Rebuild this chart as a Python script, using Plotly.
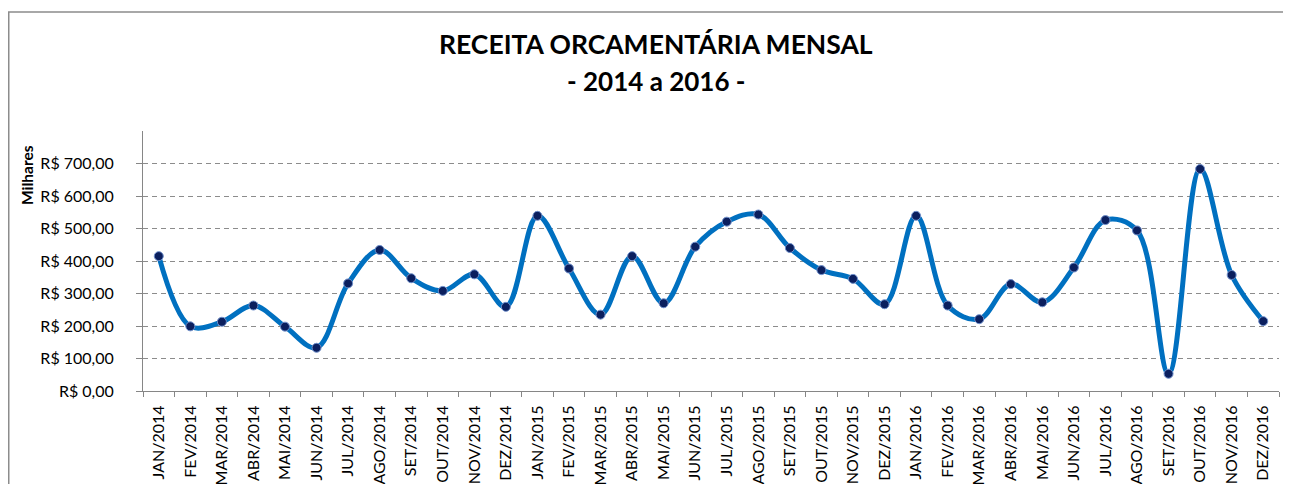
import plotly.graph_objects as go

months = ["JAN", "FEV", "MAR", "ABR", "MAI", "JUN", "JUL", "AGO", "SET", "OUT", "NOV", "DEZ"]
years = ["2014", "2015", "2016"]
categories = [f"{m}/{y}" for y in years for m in months]

values_2014 = [415, 199, 213, 263, 198, 133, 331, 434, 347, 308, 359, 259]
values_2015 = [539, 377, 235, 415, 270, 444, 521, 543, 440, 372, 345, 267]
values_2016 = [539, 263, 221, 329, 273, 380, 526, 494, 53, 683, 357, 215]
values = values_2014 + values_2015 + values_2016

y_ticks = [0, 100, 200, 300, 400, 500, 600, 700]
y_tick_labels = ["R$ 0,00", "R$ 100,00", "R$ 200,00", "R$ 300,00",
                 "R$ 400,00", "R$ 500,00", "R$ 600,00", "R$ 700,00"]

title_line1 = "RECEITA ORCAMENTÁRIA MENSAL"
title_line2 = "- 2014 a 2016 -"
y_title = "Milhares"

# page body has an 8px margin: figure origin sits at screen (8, 8)
OFF = 8
W, H = 1291 - OFF, 484 - OFF
ML, MR, MT, MB = 143 - OFF, 12, 131 - OFF, 93
PW = W - ML - MR
PH = H - MT - MB

def px_x(px):
    return (px - OFF - ML) / PW

def px_y(py):
    return (H - MB - (py - OFF)) / PH

FONT = "Lato, Carlito, Calibri, sans-serif"

fig = go.Figure()
fig.add_trace(go.Scatter(
    x=categories, y=values,
    mode="lines+markers",
    line=dict(color="#0070C0", width=5, shape="spline", smoothing=1.0),
    marker=dict(size=9, color="#0B1F5E", line=dict(color="#6F8FCB", width=1)),
    showlegend=False,
    cliponaxis=False,
))

fig.update_layout(
    width=W, height=H,
    margin=dict(l=ML, r=MR, t=MT, b=MB, autoexpand=False),
    paper_bgcolor="white", plot_bgcolor="white",
    font=dict(family=FONT, color="#000000", size=16),
    xaxis=dict(
        type="category",
        categoryorder="array", categoryarray=categories,
        tickson="boundaries",
        ticks="outside", ticklen=5, tickcolor="#868686", tickwidth=1,
        showline=True, linecolor="#868686", linewidth=1,
        showgrid=False, zeroline=False,
        tickangle=-90,
        tickfont=dict(family=FONT, size=16, color="#000000"),
        ticklabelstandoff=7,
        automargin=False,
        range=[-0.5, 35.5],
    ),
    yaxis=dict(
        range=[0, 800],
        tickvals=y_ticks, ticktext=y_tick_labels,
        ticks="outside", ticklen=6, tickcolor="#868686", tickwidth=1,
        showline=True, linecolor="#868686", linewidth=1,
        showgrid=True, gridcolor="#8C8C8C", gridwidth=1, griddash="5px,4px",
        zeroline=False,
        tickfont=dict(family=FONT, size=16, color="#000000"),
        ticklabelstandoff=19,
        automargin=False,
    ),
    shapes=[
        dict(type="path", xref="paper", yref="paper",
             path=f"M {px_x(8.75)} {px_y(500)} L {px_x(8.75)} {px_y(12)} L {px_x(1300)} {px_y(12)}",
             line=dict(color="#8C8C8C", width=1.5)),
    ],
    annotations=[
        dict(text=f"<b>{title_line1}</b>", xref="paper", yref="paper",
             x=px_x(656), y=px_y(44), xanchor="center", yanchor="middle",
             showarrow=False, font=dict(family=FONT, size=26.5, color="#000000")),
        dict(text=f"<b>{title_line2}</b>", xref="paper", yref="paper",
             x=px_x(656), y=px_y(81), xanchor="center", yanchor="middle",
             showarrow=False, font=dict(family=FONT, size=26, color="#000000")),
        dict(text=f"<b>{y_title}</b>", xref="paper", yref="paper",
             x=px_x(27), y=px_y(175), xanchor="center", yanchor="middle",
             textangle=-90,
             showarrow=False, font=dict(family=FONT, size=15.5, color="#000000")),
    ],
)

fig.write_html("out.html")
